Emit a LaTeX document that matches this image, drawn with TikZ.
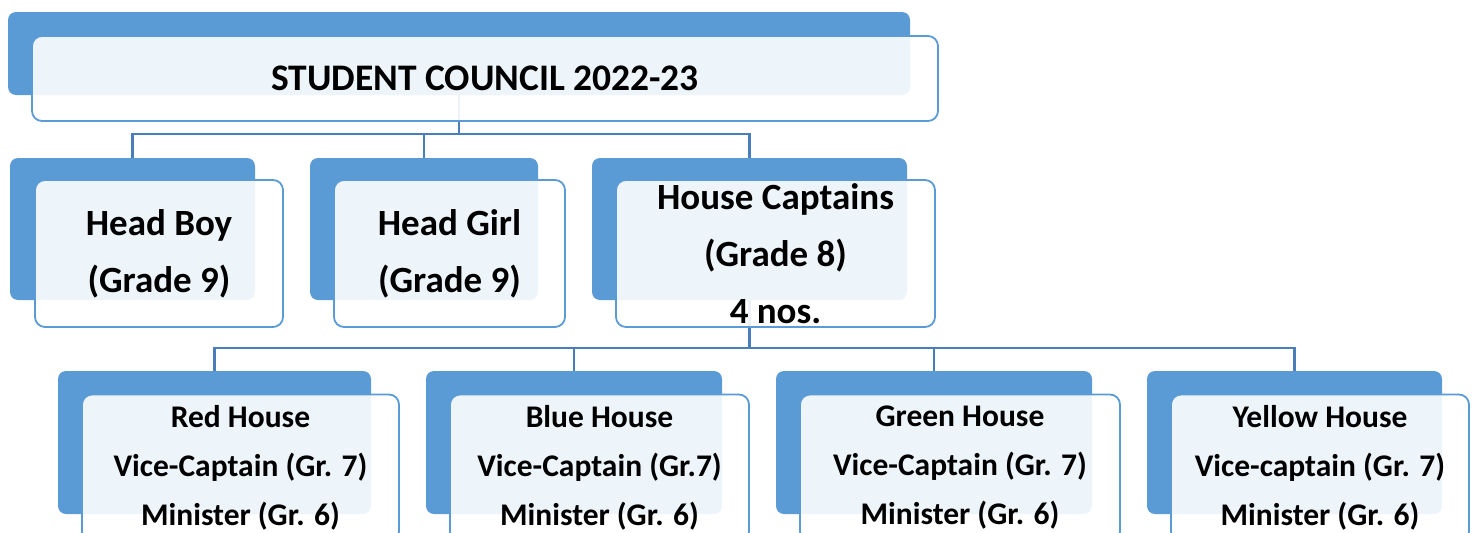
\documentclass[tikz,border=0pt]{standalone}
\usepackage{fontspec}
\setmainfont{Carlito}
\definecolor{backblue}{HTML}{5B9BD5}
\definecolor{lineblue}{HTML}{4A7EBB}
\begin{document}
\begin{tikzpicture}[x=1pt,y=-1pt,
  backbox/.style={fill=backblue, rounded corners=8pt, inner sep=0pt, outer sep=0pt},
  frontbox/.style={draw=backblue, line width=1.8pt, fill=white, fill opacity=0.9, text opacity=1,
     rounded corners=10pt, inner sep=0pt, outer sep=0pt, align=center, text=black},
  conn/.style={draw=lineblue, line width=2.2pt},
  ftitle/.style={font=\fontsize{37.5}{40}\selectfont\bfseries},
  fmid/.style={font=\fontsize{37}{57}\selectfont\bfseries},
  flow/.style={font=\fontsize{31.5}{49}\selectfont\bfseries}]
\useasboundingbox (0,0) rectangle (1476,533);
% back boxes
\node[backbox, minimum width=902pt, minimum height=83pt] (tB) at (459,53.5) {};
\node[backbox, minimum width=245pt, minimum height=142pt] (hbB) at (132.5,229) {};
\node[backbox, minimum width=228pt, minimum height=142pt] (hgB) at (424,229) {};
\node[backbox, minimum width=315pt, minimum height=142pt] (hcB) at (749.5,229) {};
\node[backbox, minimum width=313pt, minimum height=143pt] (rB) at (214.5,442.5) {};
\node[backbox, minimum width=296pt, minimum height=143pt] (bB) at (574,442.5) {};
\node[backbox, minimum width=316pt, minimum height=143pt] (gB) at (934,442.5) {};
\node[backbox, minimum width=295pt, minimum height=143pt] (yB) at (1294.5,442.5) {};
% connectors
\coordinate (j1) at (459,134);
\coordinate (j2) at (749.5,348);
\draw[conn] (tB.south) -- (j1);
\draw[conn] (hbB.north) |- (j1);
\draw[conn] (hgB.north) |- (j1);
\draw[conn] (hcB.north) |- (j1);
\draw[conn] (hcB.south) -- (j2);
\draw[conn] (rB.north) |- (j2);
\draw[conn] (bB.north) |- (j2);
\draw[conn] (gB.north) |- (j2);
\draw[conn] (yB.north) |- (j2);
% front boxes
\node[frontbox, ftitle, minimum width=906pt, minimum height=85pt] (tF) at (485,78.5) {STUDENT COUNCIL 2022-23};
\node[frontbox, fmid, minimum width=248pt, minimum height=147pt] (hbF) at (159,253.5) {Head Boy\\(Grade 9)};
\node[frontbox, fmid, minimum width=231pt, minimum height=147pt] (hgF) at (449.5,253.5) {Head Girl\\(Grade 9)};
\node[frontbox, fmid, minimum width=319pt, minimum height=147pt] (hcF) at (775.5,253.5) {House Captains\\(Grade 8)\\4 nos.};
\node[frontbox, flow, minimum width=317pt, minimum height=147pt] (rF) at (240.5,468) {Red House\\Vice-Captain (Gr. 7)\\Minister (Gr. 6)};
\node[frontbox, flow, minimum width=299pt, minimum height=147pt] (bF) at (599.5,468) {Blue House\\Vice-Captain (Gr.7)\\Minister (Gr. 6)};
\node[frontbox, flow, minimum width=320pt, minimum height=147pt] (gF) at (960,468) {Green House\\Vice-Captain (Gr. 7)\\Minister (Gr. 6)};
\node[frontbox, flow, minimum width=298pt, minimum height=147pt] (yF) at (1320,468) {Yellow House\\Vice-captain (Gr. 7)\\Minister (Gr. 6)};
\end{tikzpicture}
\end{document}
